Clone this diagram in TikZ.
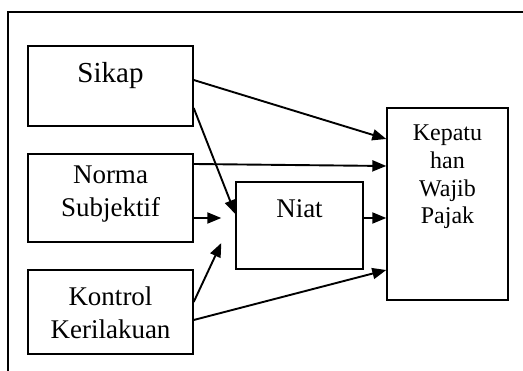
\documentclass[tikz,border=0pt]{standalone}
\usepackage{fontspec}
\setmainfont{Liberation Serif}
\usetikzlibrary{arrows.meta}
\tikzset{
  box/.style={draw, line width=1.4pt, inner sep=0pt},
  lbl/.style={inner sep=0pt, anchor=base, align=center, font=\fontsize{27}{33}\selectfont},
  klbl/.style={inner sep=0pt, anchor=base, align=center, font=\fontsize{24}{27.7}\selectfont},
  arr/.style={line width=1.9pt, -{Triangle[length=14pt,width=11pt]}},
  frame/.style={line width=1.1pt}
}
\begin{document}
\begin{tikzpicture}[x=1pt,y=-1pt]
\useasboundingbox (0,0) rectangle (523,371);
\coordinate (ftr) at (523,12);
\coordinate (ftl) at (8,12);
\coordinate (fbl) at (8,371);
\draw[frame] (ftr) -- (ftl) -- (fbl);

\node[box, minimum width=165pt, minimum height=80pt] (sikap) at (110.5,86) {};
\node[box, minimum width=165pt, minimum height=88pt] (norma) at (110.5,198) {};
\node[box, minimum width=165pt, minimum height=84pt] (kontrol) at (110.5,312) {};
\node[box, minimum width=127pt, minimum height=87pt] (niat) at (299.5,225.5) {};
\node[box, minimum width=121pt, minimum height=192pt] (kep) at (447.5,204) {};

\node[lbl, font=\fontsize{29}{33}\selectfont] (tsikap) at (110.5,83) {Sikap};
\node[lbl] (tnorma) at (110.5,217) {Norma\\Subjektif};
\node[lbl] (tkontrol) at (110.5,339) {Kontrol\\Kerilakuan};
\node[lbl] (tniat) at (299.5,218) {Niat};
\node[klbl] (tkep) at (447.5,224) {Kepatu\\han\\Wajib\\Pajak};

\draw[arr] ([yshift=6pt]sikap.east) -- ([yshift=65pt]kep.west);
\draw[arr] ([yshift=-22pt]sikap.east) -- ([yshift=11.5pt]niat.west);
\draw[arr] ([yshift=34pt]norma.east) -- ([yshift=38pt]kep.west);
\draw[arr] ([yshift=-20pt]norma.east) -- ([xshift=-14pt,yshift=7.5pt]niat.west);
\draw[arr] ([yshift=10pt]kontrol.east) -- ([xshift=-14pt,yshift=-17.5pt]niat.west);
\draw[arr] ([yshift=7.5pt]niat.east) -- ([yshift=-14pt]kep.west);
\draw[arr] ([yshift=-8pt]kontrol.east) -- ([yshift=-66pt]kep.west);
\end{tikzpicture}
\end{document}
